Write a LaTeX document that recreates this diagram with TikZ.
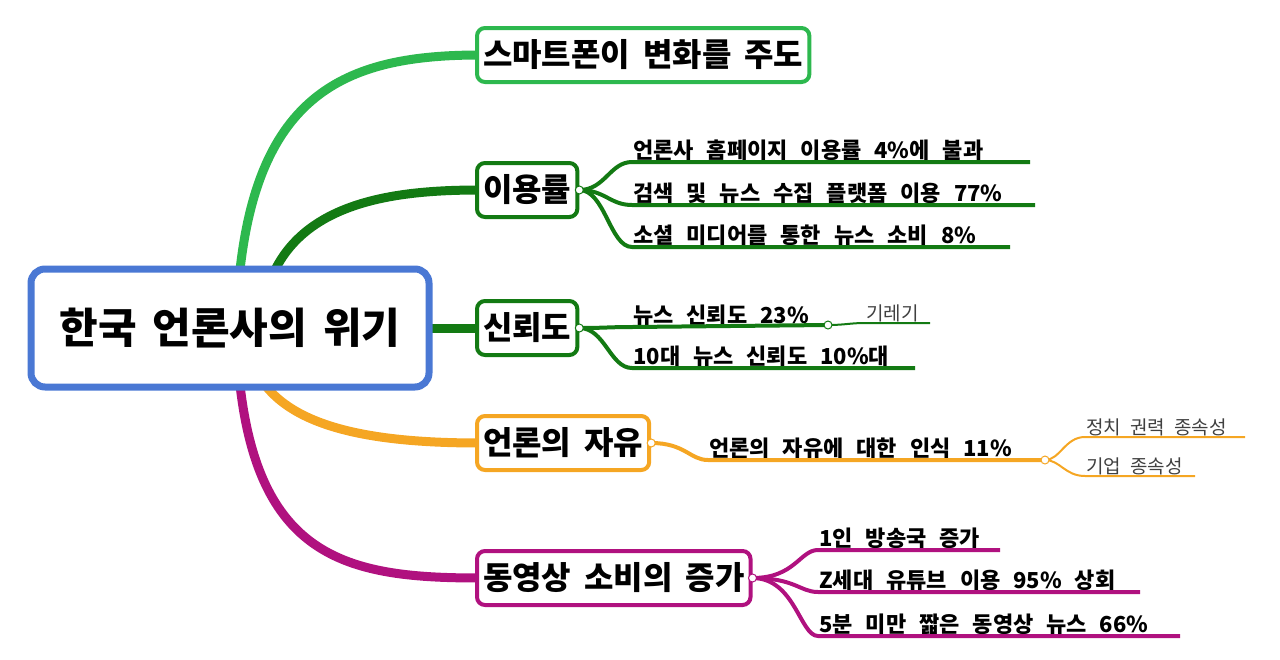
\documentclass[tikz,border=0pt]{standalone}
\usepackage{fontspec}
\newfontfamily\kr{Noto Sans CJK KR}
\definecolor{cblue}{HTML}{4A78D4}
\definecolor{cgreen}{HTML}{2DB84E}
\definecolor{cdgreen}{HTML}{137A13}
\definecolor{corange}{HTML}{F5A623}
\definecolor{cmag}{HTML}{B0117F}
\newcommand\wsp[1]{\spaceskip=#1pt\relax}
\tikzset{
 box/.style={draw=#1,line width=4pt,rounded corners=8pt,fill=white,inner sep=6pt,font=\kr\bfseries\fontsize{32}{34}\selectfont\wsp{13},anchor=west,minimum height=54pt},
 sub/.style={font=\kr\bfseries\fontsize{22}{24}\selectfont\wsp{13},anchor=south west,inner sep=1pt},
 lite/.style={font=\kr\fontsize{19}{21}\selectfont\wsp{9},anchor=south west,inner sep=1pt,text=black!75},
 br/.style={draw=#1,line width=9pt,line cap=round},
 ul/.style={draw=#1,line width=4pt},
 dot/.style={circle,draw=#1,fill=white,line width=1pt,inner sep=0pt,minimum size=8pt}
}
\begin{document}
\begin{tikzpicture}[x=1pt,y=-1pt]
\useasboundingbox (0,0) rectangle (1280,659);
\draw[br=cgreen] (240,270) .. controls (260,90) and (350,55) .. (480,55);
\draw[br=cdgreen] (275,270) .. controls (310,200) and (400,190) .. (480,190);
\draw[br=cdgreen] (430,328) -- (480,328);
\draw[br=corange] (265,385) .. controls (300,430) and (380,443) .. (480,443);
\draw[br=cmag] (240,385) .. controls (260,560) and (350,578) .. (480,578);
\node[draw=cblue,line width=7pt,rounded corners=14pt,fill=white,minimum width=398pt,minimum height=118pt,font=\kr\bfseries\fontsize{42}{44}\selectfont\wsp{16}] (root) at (230,328) {한국 언론사의 위기};
\node[box=cgreen] (b1) at (475,55) {스마트폰이 변화를 주도};
\node[box=cdgreen] (b2) at (475,190) {이용률};
\node[box=cdgreen] (b3) at (475,328) {신뢰도};
\node[box=corange] (b4) at (475,443) {언론의 자유};
\node[box=cmag] (b5) at (475,578) {동영상 소비의 증가};
\coordinate (p2) at (b2.east);
\node[sub] (s21) at (632,162) {언론사 홈페이지 이용률 4\%에 불과};
\node[sub] (s22) at (632,205) {검색 및 뉴스 수집 플랫폼 이용 77\%};
\node[sub] (s23) at (632,247) {소셜 미디어를 통한 뉴스 소비 8\%};
\draw[ul=cdgreen] (p2) .. controls (605,190) and (610,162) .. (s21.south west) -- (1030,162);
\draw[ul=cdgreen] (p2) .. controls (605,190) and (610,205) .. (s22.south west) -- (1035,205);
\draw[ul=cdgreen] (p2) .. controls (605,190) and (610,247) .. (s23.south west) -- (1010,247);
\node[dot=cdgreen] at (p2) {};
\coordinate (p3) at (b3.east);
\node[sub] (s31) at (632,327) {뉴스 신뢰도 23\%};
\node[sub] (s32) at (632,368) {10대 뉴스 신뢰도 10\%대};
\coordinate (q3) at (828,325);
\draw[ul=cdgreen] (p3) .. controls (605,328) and (610,327) .. (s31.south west) -- (q3);
\draw[ul=cdgreen] (p3) .. controls (605,328) and (610,368) .. (s32.south west) -- (915,368);
\node[lite] (s33) at (865,323) {기레기};
\draw[draw=cdgreen,line width=2pt] (q3) .. controls (845,325) and (850,323) .. (s33.south west) -- (930,323);
\node[dot=cdgreen] at (p3) {};
\node[dot=cdgreen] at (q3) {};
\coordinate (p4) at (b4.east);
\node[sub] (s41) at (708,460) {언론의 자유에 대한 인식 11\%};
\coordinate (q4) at (1045,460);
\draw[ul=corange] (p4) .. controls (685,443) and (690,460) .. (s41.south west) -- (q4);
\node[lite] (s42) at (1085,437) {정치 권력 종속성};
\node[lite] (s43) at (1085,476) {기업 종속성};
\draw[draw=corange,line width=2pt] (q4) .. controls (1060,460) and (1065,437) .. (s42.south west) -- (1245,437);
\draw[draw=corange,line width=2pt] (q4) .. controls (1060,460) and (1065,476) .. (s43.south west) -- (1195,476);
\node[dot=corange] at (p4) {};
\node[dot=corange] at (q4) {};
\coordinate (p5) at (b5.east);
\node[sub] (s51) at (818,550) {1인 방송국 증가};
\node[sub] (s52) at (818,592) {Z세대 유튜브 이용 95\% 상회};
\node[sub] (s53) at (818,636) {5분 미만 짧은 동영상 뉴스 66\%};
\draw[ul=cmag] (p5) .. controls (795,578) and (800,550) .. (s51.south west) -- (1000,550);
\draw[ul=cmag] (p5) .. controls (795,578) and (800,592) .. (s52.south west) -- (1140,592);
\draw[ul=cmag] (p5) .. controls (795,578) and (800,636) .. (s53.south west) -- (1180,636);
\node[dot=cmag] at (p5) {};
\end{tikzpicture}
\end{document}
